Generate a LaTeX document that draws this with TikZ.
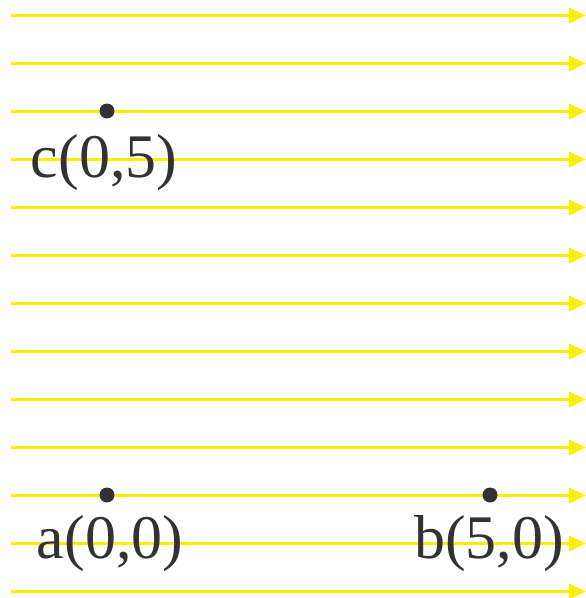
\documentclass[tikz,border=0pt]{standalone}
\usepackage{fontspec}
\setmainfont{Liberation Serif}
\usetikzlibrary{arrows.meta, calc}
\definecolor{fieldyellow}{RGB}{255,238,0}
\definecolor{ptgray}{RGB}{50,50,50}

\begin{document}
\begin{tikzpicture}[
    x=1pt, y=-1pt,
    field/.style = {-{Triangle[length=17pt, width=15pt]}, draw=fieldyellow, line width=3pt},
    pt/.style    = {circle, fill=ptgray, inner sep=0pt, minimum size=15pt},
    lbl/.style   = {text=ptgray, font=\fontsize{62}{62}\selectfont, inner sep=0pt, anchor=base},
]
\useasboundingbox (0,0) rectangle (586,598);

% ---- uniform field lines ----------------------------------------------------
\foreach \k in {0,...,12}
  \draw[field] (11,15.5+48*\k) -- (586,15.5+48*\k);

% ---- points and their labels ------------------------------------------------
\node[pt] (c) at (107,111) {};
\node[pt] (a) at (107,495) {};
\node[pt] (b) at (490,495) {};

\node[lbl] (clbl) at ($(c)+(-3,66)$) {c(0,5)};
\node[lbl] (albl) at ($(a)+(3,63)$)  {a(0,0)};
\node[lbl] (blbl) at ($(b)+(-1,63)$) {b(5,0)};
\end{tikzpicture}
\end{document}
